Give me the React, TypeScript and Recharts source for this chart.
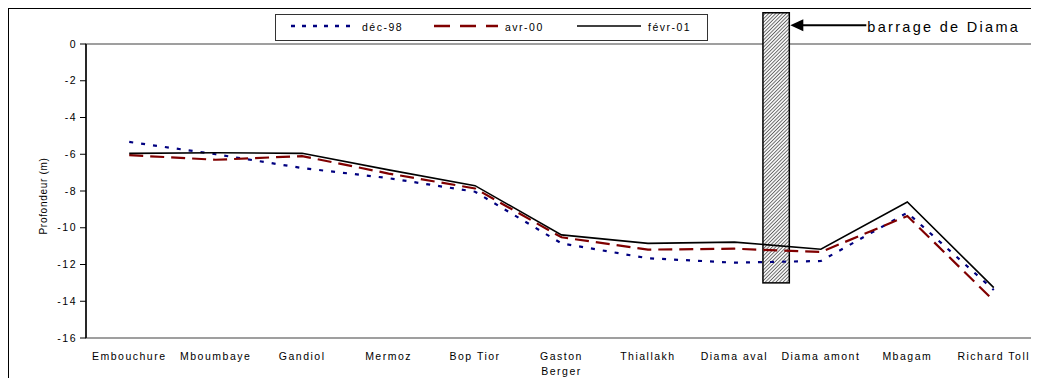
import React from "react";
import { LineChart, Line, XAxis, YAxis, ReferenceArea, Legend } from "recharts";

const categories = [
  "Embouchure",
  "Mboumbaye",
  "Gandiol",
  "Mermoz",
  "Bop Tior",
  "Gaston Berger",
  "Thiallakh",
  "Diama aval",
  "Diama amont",
  "Mbagam",
  "Richard Toll",
];

const dec98 = [-5.33, -6.0, -6.75, -7.3, -8.04, -10.85, -11.66, -11.9, -11.81, -9.18, -13.39];
const avr00 = [-6.05, -6.3, -6.1, -7.05, -7.86, -10.52, -11.19, -11.14, -11.32, -9.36, -13.97];
const fevr01 = [-5.95, -5.92, -5.95, -6.85, -7.71, -10.39, -10.85, -10.78, -11.17, -8.6, -13.26];

const yTicks = [0, -2, -4, -6, -8, -10, -12, -14, -16];

// the dam sits between "Diama aval" and "Diama amont" (x in category units)
const barrage = { x1: 7.83, x2: 8.135, y1: -13, y2: 1.7, label: "barrage de Diama" };

const FONT = "'Liberation Sans', Arial, sans-serif";

const series = [
  { key: "dec98", name: "déc-98", color: "#000080", dash: "4 8", legendDash: "4 7", width: 2.2 },
  { key: "avr00", name: "avr-00", color: "#800000", dash: "14 7", legendDash: "16 10", width: 2.2 },
  { key: "fevr01", name: "févr-01", color: "#000000", dash: undefined, legendDash: undefined, width: 1.6 },
];

const data = categories.map((name, i) => ({
  name,
  pos: i + 0.5,
  dec98: dec98[i],
  avr00: avr00[i],
  fevr01: fevr01[i],
}));

const catTicks = categories.map((_, i) => i + 0.5);
const boundTicks = [...categories.map((_, i) => i), categories.length];

const CategoryTick = (props: any) => {
  const { x, y, payload } = props;
  const name = categories[Math.round(payload.value - 0.5)] || "";
  const lines = name === "Gaston Berger" ? ["Gaston", "Berger"] : [name];
  return (
    <text
      x={x}
      y={y + 22}
      textAnchor="middle"
      fontSize={10.5}
      fontFamily={FONT}
      letterSpacing={1.5}
      fill="#000"
    >
      {lines.map((l, i) => (
        <tspan key={i} x={x} dy={i === 0 ? 0 : 15}>
          {l}
        </tspan>
      ))}
    </text>
  );
};

const NoLabel = () => <g />;

const renderBarrage = (props: any) => {
  const { x, y, width, height } = props;
  const ax = x + width;
  const ay = y + 12.5;
  return (
    <g>
      <defs>
        <pattern
          id="hatch"
          width="2.5"
          height="2.5"
          patternUnits="userSpaceOnUse"
          patternTransform="rotate(45)"
        >
          <rect width="2.5" height="2.5" fill="#f4f4f4" />
          <line x1="0" y1="0" x2="0" y2="2.5" stroke="#444" strokeWidth="1.4" />
        </pattern>
      </defs>
      <rect x={x} y={y} width={width} height={height} fill="url(#hatch)" stroke="#000" strokeWidth={1.5} />
      <line x1={ax + 10} y1={ay} x2={ax + 77} y2={ay} stroke="#000" strokeWidth={2} />
      <polygon points={`${ax + 1},${ay} ${ax + 14},${ay - 6} ${ax + 14},${ay + 6}`} fill="#000" />
      <text x={ax + 78} y={y + 19} fontSize={14.5} fontFamily={FONT} letterSpacing={2.3} fill="#000">
        {barrage.label}
      </text>
    </g>
  );
};

const renderLegend = () => (
  <div
    style={{
      width: 433,
      height: 27,
      boxSizing: "border-box",
      border: "1px solid #333",
      background: "#fff",
    }}
  >
    <svg width={431} height={25} style={{ display: "block" }}>
      {series.map((s, i) => {
        const x0 = 15 + i * 143;
        return (
          <g key={s.key}>
            <line
              x1={x0}
              x2={x0 + 64}
              y1={11}
              y2={11}
              stroke={s.color}
              strokeWidth={s.key === "fevr01" ? 1.5 : 2.5}
              strokeDasharray={s.legendDash}
            />
            <text x={x0 + 71} y={16} fontSize={10.5} fontFamily={FONT} letterSpacing={1.5} fill="#000">
              {s.name}
            </text>
          </g>
        );
      })}
    </svg>
  </div>
);

const renderYLabel = (p: any) => {
  const vb = p.viewBox || { x: 0, y: 35, width: 77, height: 294 };
  const cx = vb.x + 37.5;
  const cy = vb.y + vb.height / 2 + 5;
  return (
    <text
      x={cx}
      y={cy}
      transform={`rotate(-90, ${cx}, ${cy})`}
      textAnchor="middle"
      fontSize={10}
      fontFamily={FONT}
      letterSpacing={0.7}
      fill="#000"
    >
      Profondeur (m)
    </text>
  );
};

export default function App() {
  return (
    <div
      style={{
        width: 1030,
        height: 369,
        borderTop: "1px solid #000",
        borderLeft: "1px solid #000",
        position: "relative",
      }}
    >
      <LineChart
        width={1030}
        height={369}
        data={data}
        margin={{ top: 35, right: 2, bottom: 0, left: 0 }}
        style={{ fontFamily: FONT }}
      >
        <XAxis
          dataKey="pos"
          type="number"
          domain={[0, categories.length]}
          ticks={catTicks}
          interval={0}
          height={40}
          axisLine={false}
          tickLine={false}
          tickSize={0}
          tickMargin={0}
          tick={<CategoryTick />}
        />
        <XAxis
          xAxisId="top"
          orientation="top"
          type="number"
          dataKey="pos"
          domain={[0, categories.length]}
          ticks={boundTicks}
          interval={0}
          height={0}
          mirror
          tick={<NoLabel />}
          tickSize={5}
          axisLine={{ stroke: "#000", strokeWidth: 1.5 }}
          tickLine={{ stroke: "#000", strokeWidth: 1 }}
        />
        <YAxis
          type="number"
          domain={[-16, 0]}
          ticks={yTicks}
          interval={0}
          width={77}
          tickSize={6}
          tickMargin={3}
          axisLine={{ stroke: "#000", strokeWidth: 1.5 }}
          tickLine={{ stroke: "#000" }}
          tick={{ fontSize: 10.5, fill: "#000", fontFamily: FONT, letterSpacing: 1.5 }}
          label={{ content: renderYLabel }}
        />
        <ReferenceArea
          x1={0}
          x2={categories.length}
          y1={-16}
          y2={0}
          fill="none"
          stroke="#808080"
          strokeWidth={1.5}
        />
        <Legend
          layout="horizontal"
          verticalAlign="middle"
          align="center"
          content={renderLegend}
          wrapperStyle={{ left: 266, top: 5, width: 433, height: 27 }}
        />
        {series.map((s) => (
          <Line
            key={s.key}
            type="linear"
            dataKey={s.key}
            name={s.name}
            stroke={s.color}
            strokeWidth={s.width}
            strokeDasharray={s.dash}
            dot={false}
            activeDot={false}
            isAnimationActive={false}
          />
        ))}
        <ReferenceArea
          x1={barrage.x1}
          x2={barrage.x2}
          y1={barrage.y1}
          y2={barrage.y2}
          ifOverflow="visible"
          shape={renderBarrage}
        />
      </LineChart>
    </div>
  );
}
